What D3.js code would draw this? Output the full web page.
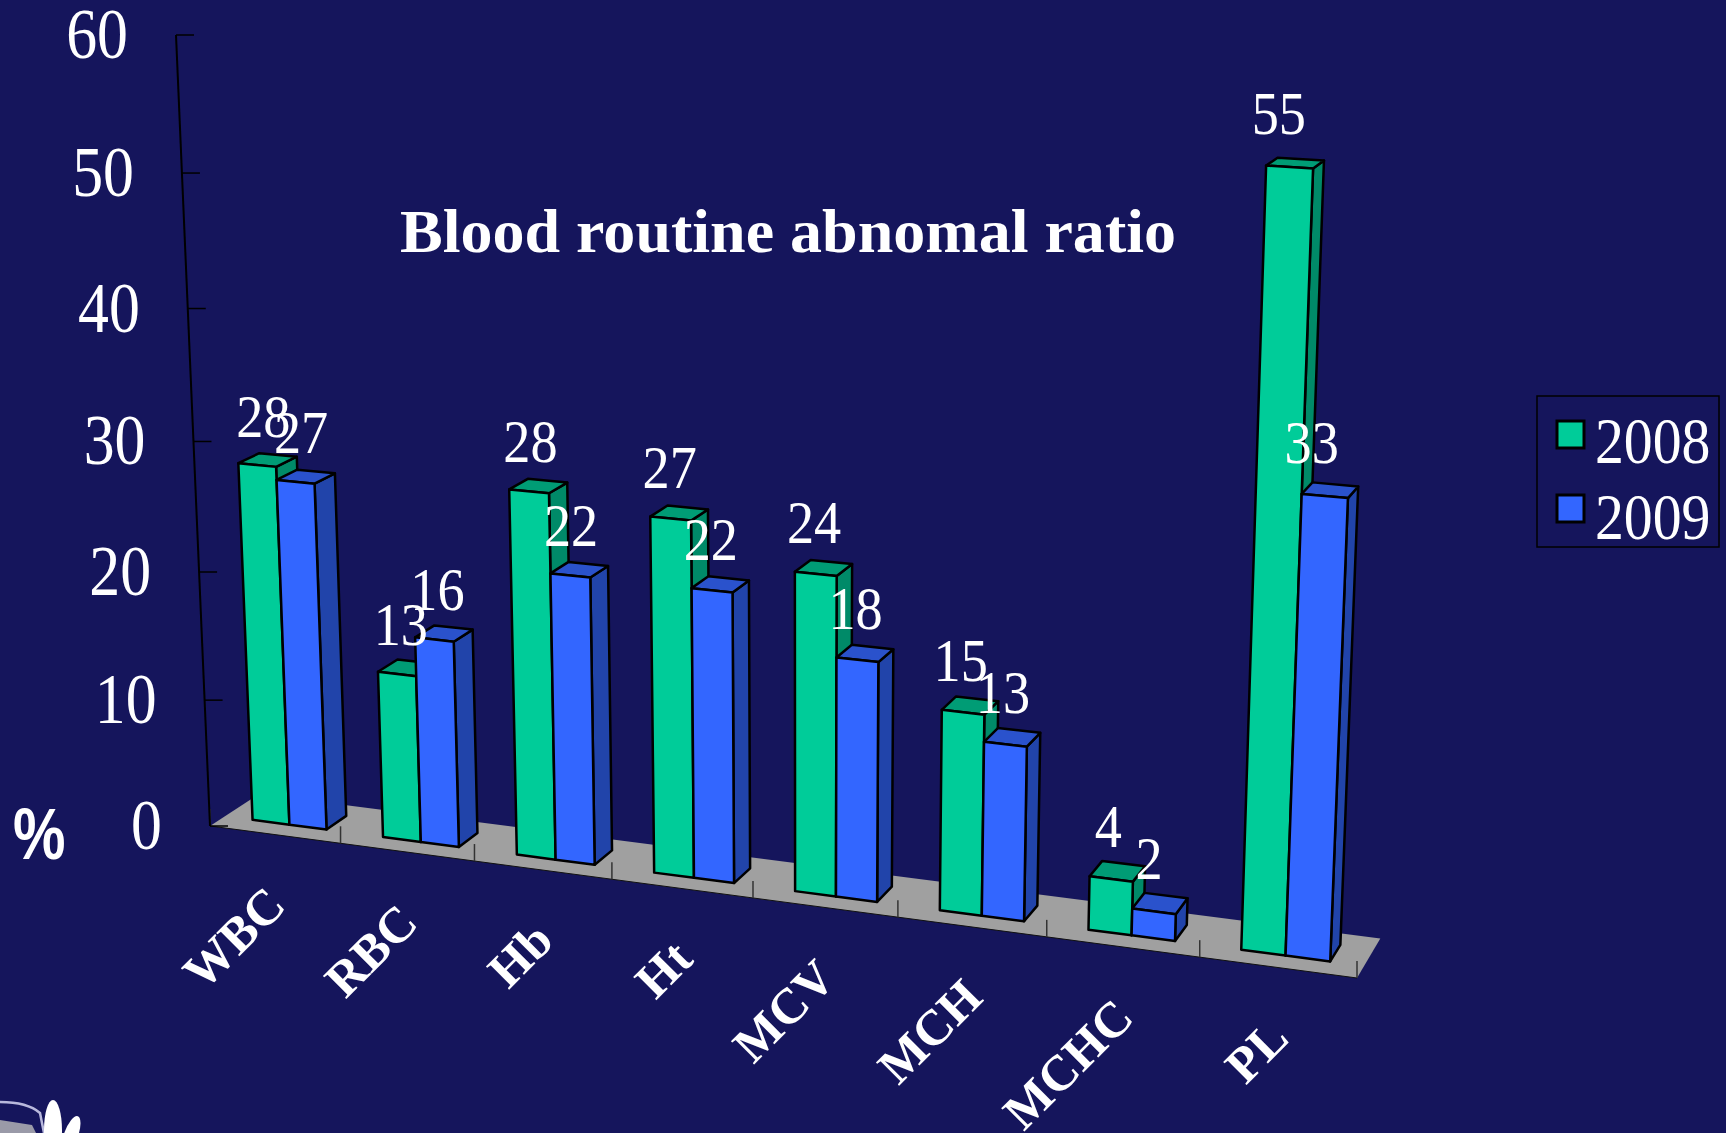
<!DOCTYPE html>
<html>
<head>
<meta charset="utf-8">
<script src="https://cdn.jsdelivr.net/npm/d3@7"></script>
<style>
  html, body { margin: 0; padding: 0; background: #15155c; overflow: hidden; }
  text { fill: white; font-family: "Liberation Serif", serif; }
</style>
</head>
<body>
<div id="visualization"></div>
<script>
let categories = ["WBC", "RBC", "Hb", "Ht", "MCV", "MCH", "MCHC", "PL"];
let years = ["2008", "2009"];
let values2008 = [28, 13, 28, 27, 24, 15, 4, 55];
let values2009 = [27, 16, 22, 22, 18, 13, 2, 33];
let valueTicks = [0, 10, 20, 30, 40, 50, 60];

let w = 1726, h = 1133;
let bg = "#15155c";
let colors = {
  "2008": { front: "#00cc99", side: "#008a68", top: "#009c75" },
  "2009": { front: "#3366ff", side: "#2144aa", top: "#2a52cc" }
};

let viz = d3.select("#visualization").append("svg")
    .attr("width", w)
    .attr("height", h)
    .style("display", "block")
    .style("background-color", bg)
;

// the chart is a 3d box seen in perspective, the corners of the box
// and their weights come from measuring the picture
let origin = [210, 826];
let cornerX = [1357, 978], weightX = 0.899;
let cornerY = [176, 35], weightY = 0.946;
let cornerZ = [259, 794], weightZ = 1.025;

// u along the categories, v up the value axis, t into the floor, all 0 to 1
function project(u, v, t){
  let d = 1 + u*(weightX-1) + v*(weightY-1) + t*(weightZ-1);
  return [0, 1].map(function(i){
    return (origin[i]
      + u*(weightX*cornerX[i]-origin[i])
      + v*(weightY*cornerY[i]-origin[i])
      + t*(weightZ*cornerZ[i]-origin[i])) / d;
  });
}

let xScale = d3.scaleBand().domain(categories).range([0, 1]).paddingInner(0.43).paddingOuter(0.215);
let seriesScale = d3.scaleBand().domain(years).range([0, xScale.bandwidth()]);
let yScale = d3.scaleLinear().domain([0, 60]).range([0, 1]);
let barFront = 0.3, barBack = 0.72;

// the value labels drift left and up a bit going right
let labelDx = d3.scaleLinear().domain([0, 0.42, 0.8, 1]).range([7, -1, -3, -16]);
let labelDy = d3.scaleLinear().domain([0, 1]).range([-28, -33]);

let poly = d3.line();

function face(points, fill){
  viz.append("path")
    .attr("d", poly(points) + "Z")
    .attr("fill", fill)
    .attr("stroke", "black")
    .attr("stroke-width", 2.5)
    .attr("stroke-linejoin", "round")
  ;
}

// floor
viz.append("path")
  .attr("d", poly([project(0,0,0), project(1,0,0), project(1,0,1), project(0,0,1)]) + "Z")
  .attr("fill", "#a0a0a0")
;
viz.append("path")
  .attr("d", poly([project(0,0,0), project(1,0,0)]))
  .attr("stroke", "#111")
  .attr("stroke-width", 1)
;

// category ticks on the front edge of the floor
d3.range(categories.length+1).forEach(function(i){
  let p = project(i/categories.length, 0, 0);
  viz.append("line")
    .attr("x1", p[0]).attr("y1", p[1])
    .attr("x2", p[0]).attr("y2", p[1]-17)
    .attr("stroke", "#333").attr("stroke-width", 1.5)
  ;
});

// value axis
let axisTop = project(0, 1, 0);
viz.append("line")
  .attr("x1", origin[0]).attr("y1", origin[1])
  .attr("x2", axisTop[0]).attr("y2", axisTop[1])
  .attr("stroke", "black").attr("stroke-width", 2)
;
valueTicks.forEach(function(v){
  let p = project(0, yScale(v), 0);
  viz.append("line")
    .attr("x1", p[0]).attr("y1", p[1])
    .attr("x2", p[0]+18).attr("y2", p[1])
    .attr("stroke", "black").attr("stroke-width", 1.5)
  ;
  viz.append("text")
    .attr("transform", "translate("+(p[0]-48)+","+(p[1]+23)+") scale(0.87,1)")
    .attr("text-anchor", "end")
    .attr("font-size", 71)
    .text(v)
  ;
});

// bars, left to right so the later ones cover the side of the earlier ones
let labels = [];
categories.forEach(function(cat, i){
  years.forEach(function(year, s){
    let value = (s == 0 ? values2008 : values2009)[i];
    let u0 = xScale(cat) + seriesScale(year);
    let u1 = u0 + seriesScale.bandwidth();
    let v = yScale(value);
    let c = colors[year];

    face([project(u1,0,barFront), project(u1,0,barBack), project(u1,v,barBack), project(u1,v,barFront)], c.side);
    face([project(u0,v,barFront), project(u1,v,barFront), project(u1,v,barBack), project(u0,v,barBack)], c.top);
    face([project(u0,0,barFront), project(u1,0,barFront), project(u1,v,barFront), project(u0,v,barFront)], c.front);

    let um = (u0+u1)/2;
    let p = project(um, v, barFront);
    labels.push({ value: value, x: p[0]+labelDx(um), y: p[1]+labelDy(um) });
  });
});

// value labels go on top of all bars
labels.forEach(function(d){
  viz.append("text")
    .attr("transform", "translate("+d.x+","+d.y+") scale(0.875,1)")
    .attr("text-anchor", "middle")
    .attr("font-size", 62)
    .text(d.value)
  ;
});

// category labels
categories.forEach(function(cat){
  let p = project(xScale(cat) + xScale.bandwidth()/2, 0, 0);
  viz.append("text")
    .attr("transform", "translate("+(p[0]+13)+","+(p[1]+73)+") rotate(-45)")
    .attr("text-anchor", "end")
    .attr("font-size", 50)
    .attr("font-weight", "bold")
    .text(cat)
  ;
});

// title
viz.append("text")
  .attr("x", 400).attr("y", 252)
  .attr("font-size", 62)
  .attr("font-weight", "bold")
  .attr("textLength", 776)
  .attr("lengthAdjust", "spacingAndGlyphs")
  .text("Blood routine abnomal ratio")
;

viz.append("text")
  .attr("transform", "translate(13,859) scale(0.82,1)")
  .attr("font-size", 72)
  .attr("font-weight", "bold")
  .style("font-family", "'Liberation Sans', sans-serif")
  .text("%")
;

// legend
viz.append("rect")
  .attr("x", 1537).attr("y", 396)
  .attr("width", 182).attr("height", 151)
  .attr("fill", "none").attr("stroke", "black").attr("stroke-width", 1.5)
;
years.forEach(function(year, s){
  viz.append("rect")
    .attr("x", 1557).attr("y", 421 + s*74)
    .attr("width", 27).attr("height", 27)
    .attr("fill", colors[year].front)
    .attr("stroke", "black").attr("stroke-width", 3)
  ;
  viz.append("text")
    .attr("transform", "translate(1595,"+(463 + s*76)+") scale(0.875,1)")
    .attr("font-size", 66)
    .text(year)
  ;
});

// the top of the logo, cut off by the bottom of the page
let logo = viz.append("g");
logo.append("path")
  .attr("d", "M0,1102 C18,1102 32,1106 40,1113 L44,1133")
  .attr("fill", "none")
  .attr("stroke", "#b8b8dc")
  .attr("stroke-width", 2.5)
;
logo.append("path")
  .attr("d", "M0,1120 L32,1125 L36,1133 L0,1133 Z")
  .attr("fill", "#9a9aa8")
;
logo.append("ellipse")
  .attr("cx", 53).attr("cy", 1130)
  .attr("rx", 9).attr("ry", 30)
  .attr("fill", "white")
;
logo.append("ellipse")
  .attr("cx", 71).attr("cy", 1135)
  .attr("rx", 7).attr("ry", 20)
  .attr("transform", "rotate(20,71,1135)")
  .attr("fill", "white")
;
</script>
</body>
</html>
